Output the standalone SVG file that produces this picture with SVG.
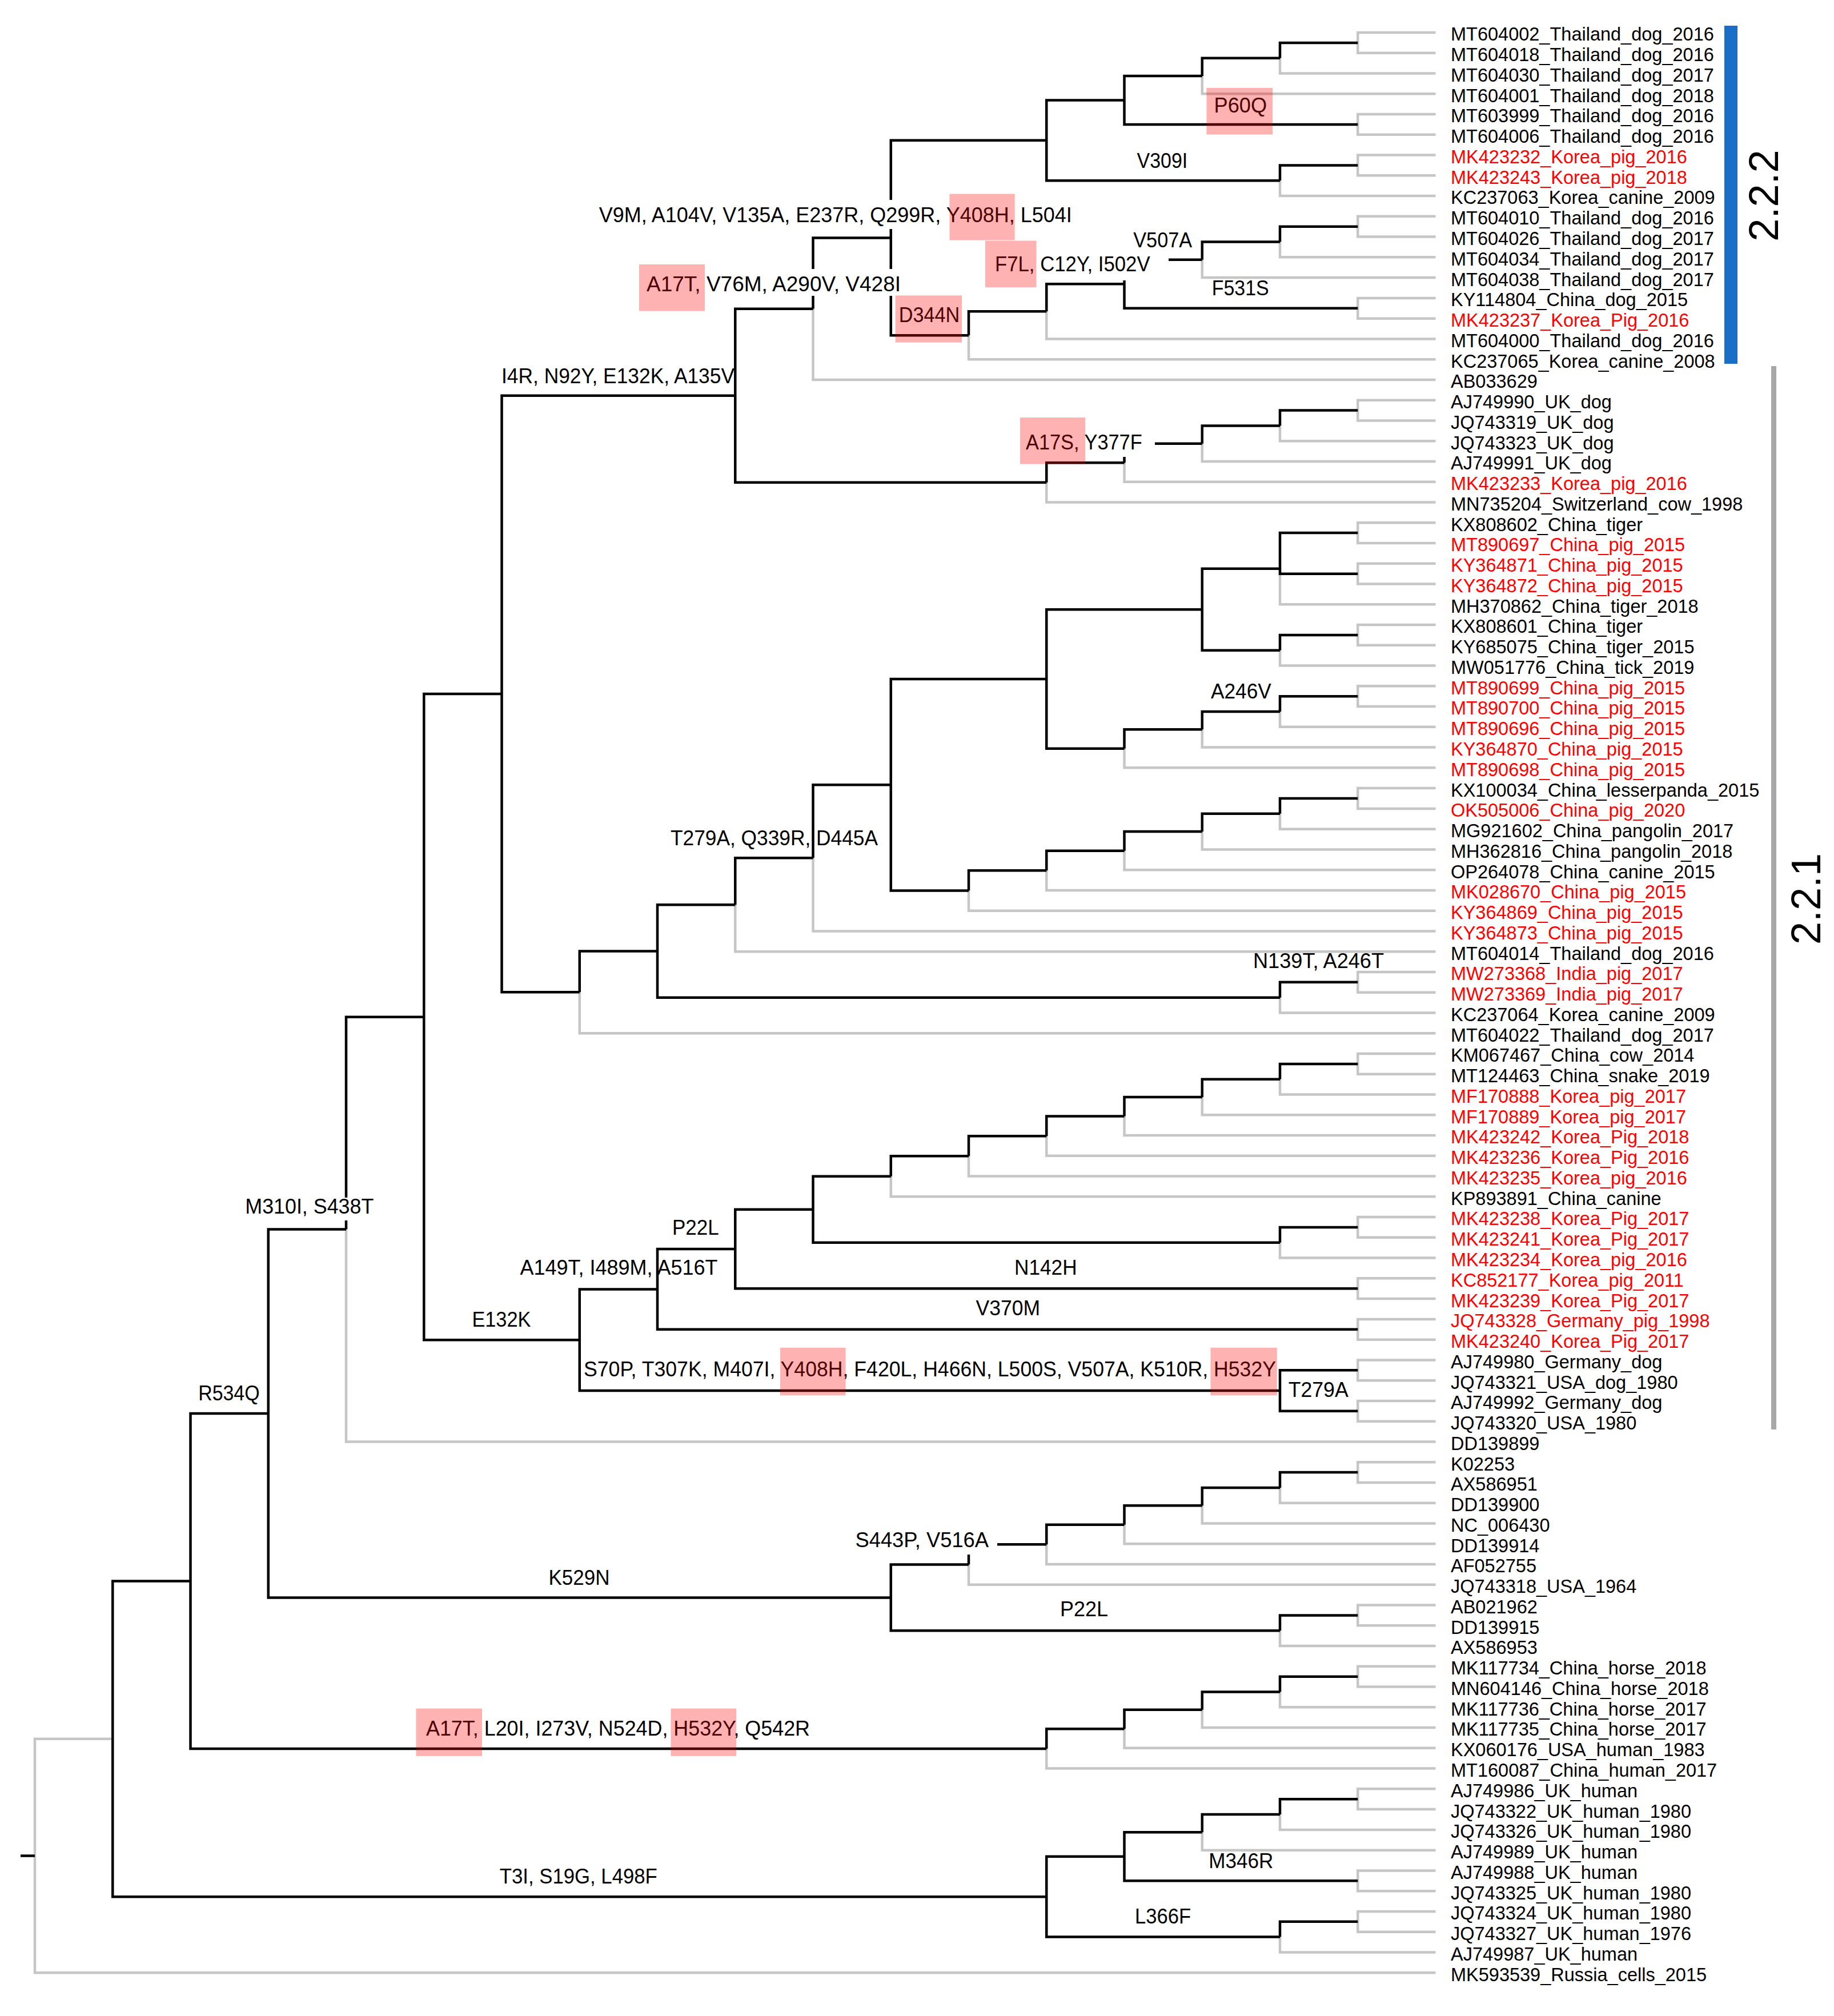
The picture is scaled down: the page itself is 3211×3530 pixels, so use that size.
<svg xmlns="http://www.w3.org/2000/svg" width="3211" height="3530" viewBox="0 0 3211 3530">
<style>
.g{fill:none;stroke:#c6c6c6;stroke-width:4.5}
.b{fill:none;stroke:#000;stroke-width:4.5}
.lf{font-family:"Liberation Sans",Arial,sans-serif;font-size:32.5px;fill:#000}
.r{fill:#ff0000}
.m{font-family:"Liberation Sans",Arial,sans-serif;font-size:36px;fill:#000}
.hl{fill:#ff0000;fill-opacity:0.3}
.wb{fill:#fff}
.cl{font-family:"Liberation Sans",Arial,sans-serif;font-size:72px;fill:#000}
</style>
<rect width="3211" height="3530" fill="#fff"/>
<g id="connectors">
<path class="g" d="M2377.25 74.88V57H2513.5M2377.25 74.88V92.76H2513.5M2241 101.7V128.52H2513.5M2104.75 132.99V164.28H2513.5M2377.25 217.92V200.04H2513.5M2377.25 217.92V235.8H2513.5M2377.25 289.44V271.56H2513.5M2377.25 289.44V307.32H2513.5M2241 316.26V343.08H2513.5M2377.25 396.72V378.84H2513.5M2377.25 396.72V414.6H2513.5M2241 423.54V450.36H2513.5M2104.75 454.83V486.12H2513.5M2377.25 539.76V521.88H2513.5M2377.25 539.76V557.64H2513.5M1832.25 545.35V593.4H2513.5M1696 587.26V629.16H2513.5M1423.5 540.74V664.92H2513.5M2377.25 718.56V700.68H2513.5M2377.25 718.56V736.44H2513.5M2241 745.38V772.2H2513.5M2104.75 776.67V807.96H2513.5M1968.5 810.2V843.72H2513.5M1832.25 844.84V879.48H2513.5M2377.25 933.12V915.24H2513.5M2377.25 933.12V951H2513.5M2377.25 1004.64V986.76H2513.5M2377.25 1004.64V1022.52H2513.5M2241 995.7V1058.28H2513.5M2377.25 1111.92V1094.04H2513.5M2377.25 1111.92V1129.8H2513.5M2241 1138.74V1165.56H2513.5M2377.25 1219.2V1201.32H2513.5M2377.25 1219.2V1237.08H2513.5M2241 1246.02V1272.84H2513.5M2104.75 1277.31V1308.6H2513.5M1968.5 1310.84V1344.36H2513.5M2377.25 1398V1380.12H2513.5M2377.25 1398V1415.88H2513.5M2241 1424.82V1451.64H2513.5M2104.75 1456.11V1487.4H2513.5M1968.5 1489.64V1523.16H2513.5M1832.25 1524.28V1558.92H2513.5M1696 1559.48V1594.68H2513.5M1423.5 1502.35V1630.44H2513.5M1287.25 1584.28V1666.2H2513.5M2377.25 1719.84V1701.96H2513.5M2377.25 1719.84V1737.72H2513.5M2241 1746.66V1773.48H2513.5M1014.75 1737.36V1809.24H2513.5M2377.25 1862.88V1845H2513.5M2377.25 1862.88V1880.76H2513.5M2241 1889.7V1916.52H2513.5M2104.75 1920.99V1952.28H2513.5M1968.5 1954.52V1988.04H2513.5M1832.25 1989.16V2023.8H2513.5M1696 2024.36V2059.56H2513.5M1559.75 2059.84V2095.32H2513.5M2377.25 2148.96V2131.08H2513.5M2377.25 2148.96V2166.84H2513.5M2241 2175.78V2202.6H2513.5M2377.25 2256.24V2238.36H2513.5M2377.25 2256.24V2274.12H2513.5M2377.25 2327.76V2309.88H2513.5M2377.25 2327.76V2345.64H2513.5M2377.25 2399.28V2381.4H2513.5M2377.25 2399.28V2417.16H2513.5M2377.25 2470.8V2452.92H2513.5M2377.25 2470.8V2488.68H2513.5M606 2152.55V2524.44H2513.5M2377.25 2578.08V2560.2H2513.5M2377.25 2578.08V2595.96H2513.5M2241 2604.9V2631.72H2513.5M2104.75 2636.19V2667.48H2513.5M1968.5 2669.72V2703.24H2513.5M1832.25 2704.36V2739H2513.5M1696 2739.56V2774.76H2513.5M2377.25 2828.4V2810.52H2513.5M2377.25 2828.4V2846.28H2513.5M2241 2855.22V2882.04H2513.5M2377.25 2935.68V2917.8H2513.5M2377.25 2935.68V2953.56H2513.5M2241 2962.5V2989.32H2513.5M2104.75 2993.79V3025.08H2513.5M1968.5 3027.32V3060.84H2513.5M1832.25 3061.96V3096.6H2513.5M2377.25 3150.24V3132.36H2513.5M2377.25 3150.24V3168.12H2513.5M2241 3177.06V3203.88H2513.5M2104.75 3208.35V3239.64H2513.5M2377.25 3293.28V3275.4H2513.5M2377.25 3293.28V3311.16H2513.5M2377.25 3364.8V3346.92H2513.5M2377.25 3364.8V3382.68H2513.5M2241 3391.62V3418.44H2513.5M61 3249.53V3454.2H2513.5M61 3249.53V3044.85H197.25"/>
<path class="b" d="M2241 101.7V74.88H2377.25M2104.75 132.99V101.7H2241M1968.5 175.46V132.99H2104.75M1968.5 175.46V217.92H2377.25M1832.25 245.86V175.46H1968.5M2241 316.26V289.44H2377.25M1832.25 245.86V316.26H2241M1559.75 416.56V245.86H1832.25M2241 423.54V396.72H2377.25M2104.75 454.83V423.54H2241M1968.5 497.3V454.83H2104.75M1968.5 497.3V539.76H2377.25M1832.25 545.35V497.3H1968.5M1696 587.26V545.35H1832.25M1559.75 416.56V587.26H1696M1423.5 540.74V416.56H1559.75M1287.25 692.79V540.74H1423.5M2241 745.38V718.56H2377.25M2104.75 776.67V745.38H2241M1968.5 810.2V776.67H2104.75M1832.25 844.84V810.2H1968.5M1287.25 692.79V844.84H1832.25M878.5 1215.08V692.79H1287.25M2241 995.7V933.12H2377.25M2241 995.7V1004.64H2377.25M2104.75 1067.22V995.7H2241M2241 1138.74V1111.92H2377.25M2104.75 1067.22V1138.74H2241M1832.25 1189.03V1067.22H2104.75M2241 1246.02V1219.2H2377.25M2104.75 1277.31V1246.02H2241M1968.5 1310.84V1277.31H2104.75M1832.25 1189.03V1310.84H1968.5M1559.75 1374.26V1189.03H1832.25M2241 1424.82V1398H2377.25M2104.75 1456.11V1424.82H2241M1968.5 1489.64V1456.11H2104.75M1832.25 1524.28V1489.64H1968.5M1696 1559.48V1524.28H1832.25M1559.75 1374.26V1559.48H1696M1423.5 1502.35V1374.26H1559.75M1287.25 1584.28V1502.35H1423.5M1151 1665.47V1584.28H1287.25M2241 1746.66V1719.84H2377.25M1151 1665.47V1746.66H2241M1014.75 1737.36V1665.47H1151M878.5 1215.08V1737.36H1014.75M742.25 1780.65V1215.08H878.5M2241 1889.7V1862.88H2377.25M2104.75 1920.99V1889.7H2241M1968.5 1954.52V1920.99H2104.75M1832.25 1989.16V1954.52H1968.5M1696 2024.36V1989.16H1832.25M1559.75 2059.84V2024.36H1696M1423.5 2117.81V2059.84H1559.75M2241 2175.78V2148.96H2377.25M1423.5 2117.81V2175.78H2241M1287.25 2187.03V2117.81H1423.5M1287.25 2187.03V2256.24H2377.25M1151 2257.4V2187.03H1287.25M1151 2257.4V2327.76H2377.25M1014.75 2346.22V2257.4H1151M2241 2435.04V2399.28H2377.25M2241 2435.04V2470.8H2377.25M1014.75 2346.22V2435.04H2241M742.25 1780.65V2346.22H1014.75M606 2152.55V1780.65H742.25M469.75 2474.97V2152.55H606M2241 2604.9V2578.08H2377.25M2104.75 2636.19V2604.9H2241M1968.5 2669.72V2636.19H2104.75M1832.25 2704.36V2669.72H1968.5M1696 2739.56V2704.36H1832.25M1559.75 2797.39V2739.56H1696M2241 2855.22V2828.4H2377.25M1559.75 2797.39V2855.22H2241M469.75 2474.97V2797.39H1559.75M333.5 2768.47V2474.97H469.75M2241 2962.5V2935.68H2377.25M2104.75 2993.79V2962.5H2241M1968.5 3027.32V2993.79H2104.75M1832.25 3061.96V3027.32H1968.5M333.5 2768.47V3061.96H1832.25M197.25 3044.85V2768.47H333.5M2241 3177.06V3150.24H2377.25M2104.75 3208.35V3177.06H2241M1968.5 3250.82V3208.35H2104.75M1968.5 3250.82V3293.28H2377.25M1832.25 3321.22V3250.82H1968.5M2241 3391.62V3364.8H2377.25M1832.25 3321.22V3391.62H2241M197.25 3044.85V3321.22H1832.25M36 3249.53H61"/>
</g>
<g id="label-backgrounds">
<rect class="wb" x="1045" y="350" width="835" height="51"/>
<rect class="wb" x="1115" y="471" width="467" height="47"/>
<rect class="wb" x="1722" y="440" width="324" height="51"/>
<rect class="wb" x="1790" y="752" width="232" height="48"/>
<rect class="wb" x="1494" y="2680" width="252" height="42"/>
<rect class="wb" x="426" y="2097" width="232" height="40"/>
</g>
<g id="mutations">
<text class="m" x="1048.7" y="389" textLength="828" lengthAdjust="spacingAndGlyphs">V9M, A104V, V135A, E237R, Q299R, Y408H, L504I</text>
<text class="m" x="1132" y="510" textLength="445" lengthAdjust="spacingAndGlyphs">A17T, V76M, A290V, V428I</text>
<text class="m" x="878" y="670.5" textLength="408" lengthAdjust="spacingAndGlyphs">I4R, N92Y, E132K, A135V</text>
<text class="m" x="2125.5" y="197.3" textLength="92.6" lengthAdjust="spacingAndGlyphs">P60Q</text>
<text class="m" x="1990.5" y="294" textLength="88.7" lengthAdjust="spacingAndGlyphs">V309I</text>
<text class="m" x="1984.3" y="432.8" textLength="102.7" lengthAdjust="spacingAndGlyphs">V507A</text>
<text class="m" x="1742" y="474.8" textLength="271.6" lengthAdjust="spacingAndGlyphs">F7L, C12Y, I502V</text>
<text class="m" x="1573.8" y="563.7" textLength="106.5" lengthAdjust="spacingAndGlyphs">D344N</text>
<text class="m" x="2121.7" y="517" textLength="100" lengthAdjust="spacingAndGlyphs">F531S</text>
<text class="m" x="1796" y="786.6" textLength="203.7" lengthAdjust="spacingAndGlyphs">A17S, Y377F</text>
<text class="m" x="2120" y="1223.3" textLength="105.8" lengthAdjust="spacingAndGlyphs">A246V</text>
<text class="m" x="1174" y="1479.6" textLength="363" lengthAdjust="spacingAndGlyphs">T279A, Q339R, D445A</text>
<text class="m" x="2194" y="1695" textLength="229" lengthAdjust="spacingAndGlyphs">N139T, A246T</text>
<text class="m" x="1177" y="2162" textLength="81.7" lengthAdjust="spacingAndGlyphs">P22L</text>
<text class="m" x="910.6" y="2232" textLength="346" lengthAdjust="spacingAndGlyphs">A149T, I489M, A516T</text>
<text class="m" x="1776" y="2232" textLength="109.6" lengthAdjust="spacingAndGlyphs">N142H</text>
<text class="m" x="1708.5" y="2302.7" textLength="112.5" lengthAdjust="spacingAndGlyphs">V370M</text>
<text class="m" x="1022" y="2409.8" textLength="1212" lengthAdjust="spacingAndGlyphs">S70P, T307K, M407I, Y408H, F420L, H466N, L500S, V507A, K510R, H532Y</text>
<text class="m" x="2255.7" y="2445.5" textLength="105" lengthAdjust="spacingAndGlyphs">T279A</text>
<text class="m" x="826.4" y="2322.6" textLength="103" lengthAdjust="spacingAndGlyphs">E132K</text>
<text class="m" x="429.3" y="2125" textLength="225" lengthAdjust="spacingAndGlyphs">M310I, S438T</text>
<text class="m" x="347.2" y="2452.3" textLength="107.4" lengthAdjust="spacingAndGlyphs">R534Q</text>
<text class="m" x="960.5" y="2774.5" textLength="107" lengthAdjust="spacingAndGlyphs">K529N</text>
<text class="m" x="1497.5" y="2709.2" textLength="233.5" lengthAdjust="spacingAndGlyphs">S443P, V516A</text>
<text class="m" x="1856" y="2830.3" textLength="84" lengthAdjust="spacingAndGlyphs">P22L</text>
<text class="m" x="746" y="3038.6" textLength="672" lengthAdjust="spacingAndGlyphs">A17T, L20I, I273V, N524D, H532Y, Q542R</text>
<text class="m" x="874.8" y="3297.7" textLength="276" lengthAdjust="spacingAndGlyphs">T3I, S19G, L498F</text>
<text class="m" x="2116.3" y="3270.7" textLength="113" lengthAdjust="spacingAndGlyphs">M346R</text>
<text class="m" x="1987" y="3368.3" textLength="98" lengthAdjust="spacingAndGlyphs">L366F</text>
</g>
<g id="highlights">
<rect class="hl" x="2112.4" y="153.9" width="115.8" height="81.6"/>
<rect class="hl" x="1662.5" y="339.5" width="114.2" height="81.1"/>
<rect class="hl" x="1119" y="463" width="115" height="81.6"/>
<rect class="hl" x="1567.6" y="517.4" width="116.5" height="82.3"/>
<rect class="hl" x="1725" y="421.5" width="89.5" height="81.5"/>
<rect class="hl" x="1786" y="731.1" width="114.2" height="81.5"/>
<rect class="hl" x="1366" y="2359.8" width="114.6" height="83.5"/>
<rect class="hl" x="2119.4" y="2359.8" width="116.4" height="83.5"/>
<rect class="hl" x="728.5" y="2991.6" width="115.5" height="83.2"/>
<rect class="hl" x="1174.5" y="2991.6" width="114.5" height="83.2"/>
</g>
<g id="leaves">
<g id="leaf01"><text class="lf" x="2540" y="71.4">MT604002_Thailand_dog_2016</text></g>
<g id="leaf02"><text class="lf" x="2540" y="107.16">MT604018_Thailand_dog_2016</text></g>
<g id="leaf03"><text class="lf" x="2540" y="142.92">MT604030_Thailand_dog_2017</text></g>
<g id="leaf04"><text class="lf" x="2540" y="178.68">MT604001_Thailand_dog_2018</text></g>
<g id="leaf05"><text class="lf" x="2540" y="214.44">MT603999_Thailand_dog_2016</text></g>
<g id="leaf06"><text class="lf" x="2540" y="250.2">MT604006_Thailand_dog_2016</text></g>
<g id="leaf07"><text class="lf r" x="2540" y="285.96">MK423232_Korea_pig_2016</text></g>
<g id="leaf08"><text class="lf r" x="2540" y="321.72">MK423243_Korea_pig_2018</text></g>
<g id="leaf09"><text class="lf" x="2540" y="357.48">KC237063_Korea_canine_2009</text></g>
<g id="leaf10"><text class="lf" x="2540" y="393.24">MT604010_Thailand_dog_2016</text></g>
<g id="leaf11"><text class="lf" x="2540" y="429">MT604026_Thailand_dog_2017</text></g>
<g id="leaf12"><text class="lf" x="2540" y="464.76">MT604034_Thailand_dog_2017</text></g>
<g id="leaf13"><text class="lf" x="2540" y="500.52">MT604038_Thailand_dog_2017</text></g>
<g id="leaf14"><text class="lf" x="2540" y="536.28">KY114804_China_dog_2015</text></g>
<g id="leaf15"><text class="lf r" x="2540" y="572.04">MK423237_Korea_Pig_2016</text></g>
<g id="leaf16"><text class="lf" x="2540" y="607.8">MT604000_Thailand_dog_2016</text></g>
<g id="leaf17"><text class="lf" x="2540" y="643.56">KC237065_Korea_canine_2008</text></g>
<g id="leaf18"><text class="lf" x="2540" y="679.32">AB033629</text></g>
<g id="leaf19"><text class="lf" x="2540" y="715.08">AJ749990_UK_dog</text></g>
<g id="leaf20"><text class="lf" x="2540" y="750.84">JQ743319_UK_dog</text></g>
<g id="leaf21"><text class="lf" x="2540" y="786.6">JQ743323_UK_dog</text></g>
<g id="leaf22"><text class="lf" x="2540" y="822.36">AJ749991_UK_dog</text></g>
<g id="leaf23"><text class="lf r" x="2540" y="858.12">MK423233_Korea_pig_2016</text></g>
<g id="leaf24"><text class="lf" x="2540" y="893.88">MN735204_Switzerland_cow_1998</text></g>
<g id="leaf25"><text class="lf" x="2540" y="929.64">KX808602_China_tiger</text></g>
<g id="leaf26"><text class="lf r" x="2540" y="965.4">MT890697_China_pig_2015</text></g>
<g id="leaf27"><text class="lf r" x="2540" y="1001.16">KY364871_China_pig_2015</text></g>
<g id="leaf28"><text class="lf r" x="2540" y="1036.92">KY364872_China_pig_2015</text></g>
<g id="leaf29"><text class="lf" x="2540" y="1072.68">MH370862_China_tiger_2018</text></g>
<g id="leaf30"><text class="lf" x="2540" y="1108.44">KX808601_China_tiger</text></g>
<g id="leaf31"><text class="lf" x="2540" y="1144.2">KY685075_China_tiger_2015</text></g>
<g id="leaf32"><text class="lf" x="2540" y="1179.96">MW051776_China_tick_2019</text></g>
<g id="leaf33"><text class="lf r" x="2540" y="1215.72">MT890699_China_pig_2015</text></g>
<g id="leaf34"><text class="lf r" x="2540" y="1251.48">MT890700_China_pig_2015</text></g>
<g id="leaf35"><text class="lf r" x="2540" y="1287.24">MT890696_China_pig_2015</text></g>
<g id="leaf36"><text class="lf r" x="2540" y="1323">KY364870_China_pig_2015</text></g>
<g id="leaf37"><text class="lf r" x="2540" y="1358.76">MT890698_China_pig_2015</text></g>
<g id="leaf38"><text class="lf" x="2540" y="1394.52">KX100034_China_lesserpanda_2015</text></g>
<g id="leaf39"><text class="lf r" x="2540" y="1430.28">OK505006_China_pig_2020</text></g>
<g id="leaf40"><text class="lf" x="2540" y="1466.04">MG921602_China_pangolin_2017</text></g>
<g id="leaf41"><text class="lf" x="2540" y="1501.8">MH362816_China_pangolin_2018</text></g>
<g id="leaf42"><text class="lf" x="2540" y="1537.56">OP264078_China_canine_2015</text></g>
<g id="leaf43"><text class="lf r" x="2540" y="1573.32">MK028670_China_pig_2015</text></g>
<g id="leaf44"><text class="lf r" x="2540" y="1609.08">KY364869_China_pig_2015</text></g>
<g id="leaf45"><text class="lf r" x="2540" y="1644.84">KY364873_China_pig_2015</text></g>
<g id="leaf46"><text class="lf" x="2540" y="1680.6">MT604014_Thailand_dog_2016</text></g>
<g id="leaf47"><text class="lf r" x="2540" y="1716.36">MW273368_India_pig_2017</text></g>
<g id="leaf48"><text class="lf r" x="2540" y="1752.12">MW273369_India_pig_2017</text></g>
<g id="leaf49"><text class="lf" x="2540" y="1787.88">KC237064_Korea_canine_2009</text></g>
<g id="leaf50"><text class="lf" x="2540" y="1823.64">MT604022_Thailand_dog_2017</text></g>
<g id="leaf51"><text class="lf" x="2540" y="1859.4">KM067467_China_cow_2014</text></g>
<g id="leaf52"><text class="lf" x="2540" y="1895.16">MT124463_China_snake_2019</text></g>
<g id="leaf53"><text class="lf r" x="2540" y="1930.92">MF170888_Korea_pig_2017</text></g>
<g id="leaf54"><text class="lf r" x="2540" y="1966.68">MF170889_Korea_pig_2017</text></g>
<g id="leaf55"><text class="lf r" x="2540" y="2002.44">MK423242_Korea_Pig_2018</text></g>
<g id="leaf56"><text class="lf r" x="2540" y="2038.2">MK423236_Korea_Pig_2016</text></g>
<g id="leaf57"><text class="lf r" x="2540" y="2073.96">MK423235_Korea_pig_2016</text></g>
<g id="leaf58"><text class="lf" x="2540" y="2109.72">KP893891_China_canine</text></g>
<g id="leaf59"><text class="lf r" x="2540" y="2145.48">MK423238_Korea_Pig_2017</text></g>
<g id="leaf60"><text class="lf r" x="2540" y="2181.24">MK423241_Korea_Pig_2017</text></g>
<g id="leaf61"><text class="lf r" x="2540" y="2217">MK423234_Korea_pig_2016</text></g>
<g id="leaf62"><text class="lf r" x="2540" y="2252.76">KC852177_Korea_pig_2011</text></g>
<g id="leaf63"><text class="lf r" x="2540" y="2288.52">MK423239_Korea_Pig_2017</text></g>
<g id="leaf64"><text class="lf r" x="2540" y="2324.28">JQ743328_Germany_pig_1998</text></g>
<g id="leaf65"><text class="lf r" x="2540" y="2360.04">MK423240_Korea_Pig_2017</text></g>
<g id="leaf66"><text class="lf" x="2540" y="2395.8">AJ749980_Germany_dog</text></g>
<g id="leaf67"><text class="lf" x="2540" y="2431.56">JQ743321_USA_dog_1980</text></g>
<g id="leaf68"><text class="lf" x="2540" y="2467.32">AJ749992_Germany_dog</text></g>
<g id="leaf69"><text class="lf" x="2540" y="2503.08">JQ743320_USA_1980</text></g>
<g id="leaf70"><text class="lf" x="2540" y="2538.84">DD139899</text></g>
<g id="leaf71"><text class="lf" x="2540" y="2574.6">K02253</text></g>
<g id="leaf72"><text class="lf" x="2540" y="2610.36">AX586951</text></g>
<g id="leaf73"><text class="lf" x="2540" y="2646.12">DD139900</text></g>
<g id="leaf74"><text class="lf" x="2540" y="2681.88">NC_006430</text></g>
<g id="leaf75"><text class="lf" x="2540" y="2717.64">DD139914</text></g>
<g id="leaf76"><text class="lf" x="2540" y="2753.4">AF052755</text></g>
<g id="leaf77"><text class="lf" x="2540" y="2789.16">JQ743318_USA_1964</text></g>
<g id="leaf78"><text class="lf" x="2540" y="2824.92">AB021962</text></g>
<g id="leaf79"><text class="lf" x="2540" y="2860.68">DD139915</text></g>
<g id="leaf80"><text class="lf" x="2540" y="2896.44">AX586953</text></g>
<g id="leaf81"><text class="lf" x="2540" y="2932.2">MK117734_China_horse_2018</text></g>
<g id="leaf82"><text class="lf" x="2540" y="2967.96">MN604146_China_horse_2018</text></g>
<g id="leaf83"><text class="lf" x="2540" y="3003.72">MK117736_China_horse_2017</text></g>
<g id="leaf84"><text class="lf" x="2540" y="3039.48">MK117735_China_horse_2017</text></g>
<g id="leaf85"><text class="lf" x="2540" y="3075.24">KX060176_USA_human_1983</text></g>
<g id="leaf86"><text class="lf" x="2540" y="3111">MT160087_China_human_2017</text></g>
<g id="leaf87"><text class="lf" x="2540" y="3146.76">AJ749986_UK_human</text></g>
<g id="leaf88"><text class="lf" x="2540" y="3182.52">JQ743322_UK_human_1980</text></g>
<g id="leaf89"><text class="lf" x="2540" y="3218.28">JQ743326_UK_human_1980</text></g>
<g id="leaf90"><text class="lf" x="2540" y="3254.04">AJ749989_UK_human</text></g>
<g id="leaf91"><text class="lf" x="2540" y="3289.8">AJ749988_UK_human</text></g>
<g id="leaf92"><text class="lf" x="2540" y="3325.56">JQ743325_UK_human_1980</text></g>
<g id="leaf93"><text class="lf" x="2540" y="3361.32">JQ743324_UK_human_1980</text></g>
<g id="leaf94"><text class="lf" x="2540" y="3397.08">JQ743327_UK_human_1976</text></g>
<g id="leaf95"><text class="lf" x="2540" y="3432.84">AJ749987_UK_human</text></g>
<g id="leaf96"><text class="lf" x="2540" y="3468.6">MK593539_Russia_cells_2015</text></g>
</g>
<g id="clade-2.2.2">
<rect x="3019" y="45" width="23" height="592" fill="#1b6ec8"/>
<text class="cl" transform="translate(3113,342.6) rotate(-90)" text-anchor="middle">2.2.2</text>
</g>
<g id="clade-2.2.1">
<rect x="3101" y="641" width="9" height="1862" fill="#a8a8a8"/>
<text class="cl" transform="translate(3187,1574) rotate(-90)" text-anchor="middle">2.2.1</text>
</g>
</svg>
